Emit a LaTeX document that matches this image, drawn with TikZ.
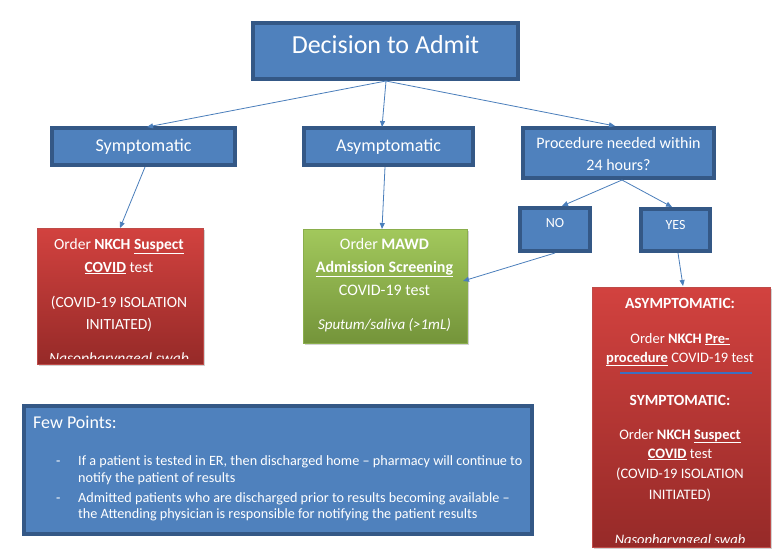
\documentclass[tikz,border=0pt]{standalone}
\usepackage{fontspec}
\setmainfont{Carlito}
\usetikzlibrary{arrows.meta,shadows}
\definecolor{bfill}{HTML}{4F81BD}
\definecolor{bdraw}{HTML}{345886}
\definecolor{arr}{HTML}{4A7EBB}
\definecolor{sep}{HTML}{3D6FC0}
\definecolor{redtop}{HTML}{D2423F}
\definecolor{redbot}{HTML}{962A28}
\definecolor{redline}{HTML}{BE4B48}
\definecolor{grtop}{HTML}{A2C85C}
\definecolor{grbot}{HTML}{74943A}
\definecolor{grline}{HTML}{8AAE4C}
\begin{document}
\begin{tikzpicture}[x=1pt,y=-1pt,
  bluebox/.style={draw=bdraw,line width=3.2pt,fill=bfill,text=white,inner sep=0pt},
  redbox/.style={draw=redline,line width=0.8pt,top color=redtop,bottom color=redbot,inner sep=0pt,
     drop shadow={shadow xshift=2pt,shadow yshift=-2pt,opacity=0.35}},
  greenbox/.style={draw=grline,line width=0.8pt,top color=grtop,bottom color=grbot,inner sep=0pt,
     drop shadow={shadow xshift=2pt,shadow yshift=-2pt,opacity=0.35}},
  wt/.style={text=white,inner sep=0pt,anchor=base},
  conn/.style={draw=arr,line width=0.8pt,-{Triangle[length=6pt,width=5pt]}}]
\useasboundingbox (0,0) rectangle (773,551);
\fill[white] (0,0) rectangle (773,551);

% top boxes
\node[bluebox,minimum width=265pt,minimum height=56pt] (dec) at (385.5,51) {};
\node[wt,font=\fontsize{26}{30}\selectfont] (dect) at (385.5,53) {Decision to Admit};
\node[bluebox,minimum width=183pt,minimum height=37pt,font=\fontsize{18}{22}\selectfont] (sym) at (143.5,146.5) {Symptomatic};
\node[bluebox,minimum width=169pt,minimum height=37pt,font=\fontsize{18}{22}\selectfont] (asy) at (388.5,146.5) {Asymptomatic};
\node[bluebox,minimum width=191pt,minimum height=50pt] (proc) at (618.5,153) {};
\node[wt,font=\fontsize{16}{20}\selectfont] (proc1) at (618.5,148) {Procedure needed within};
\node[wt,font=\fontsize{16}{20}\selectfont] (proc2) at (618.5,170) {24 hours?};
\node[bluebox,minimum width=70pt,minimum height=43pt] (no) at (555,229.5) {};
\node[wt,font=\fontsize{14}{17}\selectfont] (not) at (555,227) {NO};
\node[bluebox,minimum width=69pt,minimum height=42pt] (yes) at (675.5,230) {};
\node[wt,font=\fontsize{14}{17}\selectfont] (yest) at (675.5,229) {YES};

% result boxes
\node[redbox,minimum width=166pt,minimum height=136pt] (r1) at (120,296) {};
\node[greenbox,minimum width=164pt,minimum height=114pt] (g) at (385,286) {};
\node[redbox,minimum width=178pt,minimum height=260pt] (r2) at (681,417) {};

% red box 1 text
\begin{scope}[font=\fontsize{15.5}{19}\selectfont]
\node[wt] (r1a) at (119,249) {Order \textbf{NKCH \underline{Suspect}}};
\node[wt] (r1b) at (119,272) {\textbf{\underline{COVID}} test};
\node[wt] (r1c) at (119,307) {(COVID-19 ISOLATION};
\node[wt] (r1d) at (119,329) {INITIATED)};
\begin{scope}
\clip (37,228) rectangle (203,358);
\node[wt] (r1e) at (119,363) {\itshape Nasopharyngeal swab};
\end{scope}
\end{scope}

% green text
\begin{scope}[font=\fontsize{16}{19}\selectfont]
\node[wt] (ga) at (384.5,249) {Order \textbf{MAWD}};
\node[wt] (gb) at (384.5,272) {\textbf{\underline{Admission Screening}}};
\node[wt] (gc) at (384.5,295) {COVID-19 test};
\node[wt,font=\fontsize{15}{18}\selectfont] (gd) at (384.5,329) {\itshape Sputum/saliva (>1mL)};
\end{scope}

% red box 2 text
\begin{scope}[font=\fontsize{14.5}{17}\selectfont]
\node[wt,font=\fontsize{15.5}{18}\selectfont] (r2a) at (680,308) {\textbf{ASYMPTOMATIC:}};
\node[wt] (r2b) at (680,343) {Order \textbf{NKCH \underline{Pre-}}};
\node[wt] (r2c) at (680,362) {\textbf{\underline{procedure}} COVID-19 test};
\coordinate (ln1) at (620,373);
\coordinate (ln2) at (752,373);
\draw[sep,line width=1.3pt] (ln1) -- (ln2);
\node[wt,font=\fontsize{15.5}{18}\selectfont] (r2d) at (680,405) {\textbf{SYMPTOMATIC:}};
\node[wt] (r2e) at (680,439) {Order \textbf{NKCH \underline{Suspect}}};
\node[wt] (r2f) at (680,458) {\textbf{\underline{COVID}} test};
\node[wt] (r2g) at (680,478) {(COVID-19 ISOLATION};
\node[wt] (r2h) at (680,499) {INITIATED)};
\begin{scope}
\clip (592,287) rectangle (770,542);
\node[wt] (r2i) at (680,544) {\itshape Nasopharyngeal swab};
\end{scope}
\end{scope}

% few points box
\node[bluebox,minimum width=508pt,minimum height=128pt] (few) at (278,470) {};
\node[wt,anchor=base west,font=\fontsize{18}{22}\selectfont] (fewt) at (33,428) {Few Points:};
\begin{scope}[font=\fontsize{14.2}{17}\selectfont]
\node[wt,anchor=base west] (d1) at (56,465) {-};
\node[wt,anchor=base west] (p1a) at (78,465) {If a patient is tested in ER, then discharged home – pharmacy will continue to};
\node[wt,anchor=base west] (p1b) at (78,482) {notify the patient of results};
\node[wt,anchor=base west] (d2) at (56,502) {-};
\node[wt,anchor=base west] (p2a) at (78,502) {Admitted patients who are discharged prior to results becoming available –};
\node[wt,anchor=base west] (p2b) at (78,518) {the Attending physician is responsible for notifying the patient results};
\end{scope}

% connectors
\coordinate (decb) at (386,81);
\draw[conn] (decb) -- (147,127);
\draw[conn] (decb) -- (382,127);
\draw[conn] (decb) -- (615,126);
\coordinate (symb) at (145,167);
\draw[conn] (symb) -- (120,228);
\coordinate (asyb) at (385,167);
\draw[conn] (asyb) -- (382,229);
\coordinate (procb) at (622,180);
\draw[conn] (procb) -- (562,206);
\draw[conn] (procb) -- (672,207);
\coordinate (nob) at (555,253);
\draw[conn] (nob) -- (463,281);
\coordinate (yesb) at (678,253);
\draw[conn] (yesb) -- (683,286);
\end{tikzpicture}
\end{document}
